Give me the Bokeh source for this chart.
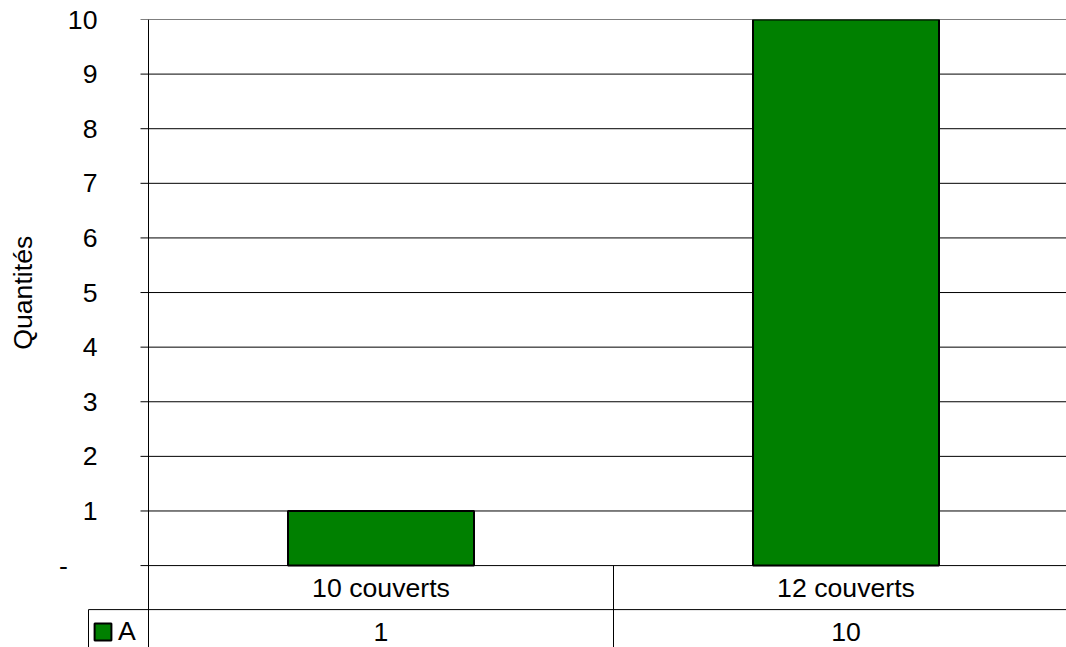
from bokeh.plotting import figure
from bokeh.models import Range1d, FixedTicker, Legend, LegendItem
from bokeh.embed import file_html
from bokeh.resources import INLINE
from bokeh.core.properties import value

# ---- data ----
categories = ["10 couverts", "12 couverts"]
series_name = "A"
values_a = [1, 10]
y_ticks = [0, 1, 2, 3, 4, 5, 6, 7, 8, 9, 10]
y_label = "Quantités"

FONT = "Liberation Sans"
FS = "20pt"
GREEN = "#008000"

# ---- layout constants (pixels -> data units) ----
PX = 1 / 465.0            # one pixel in x data units (one category = 465 px)
X_START = -61 * PX        # frame starts 61 px left of the value axis
X_END = 918 * PX
Y_MIN, Y_MAX = -1.5, 10
TICK = 8 * PX
CELL_LEFT = -60 * PX
ROW_SEP = -0.806
ROW1_Y = -0.403
ROW2_Y = -1.209

xs = [i + 0.5 for i in range(len(categories))]
bounds = [i + 1 for i in range(len(categories))]

p = figure(width=1066, height=647, output_backend="svg", toolbar_location=None,
           x_axis_location=None,
           min_border_left=87, min_border_right=0, min_border_top=19, min_border_bottom=0,
           x_range=Range1d(X_START, X_END), y_range=Range1d(Y_MIN, Y_MAX))
p.outline_line_color = None
p.background_fill_color = "white"
p.border_fill_color = "white"
p.xgrid.visible = False
p.ygrid.visible = False

# y axis (labels only; rule drawn at x = 0 below)
ax = p.yaxis[0]
ax.ticker = FixedTicker(ticks=y_ticks)
ax.bounds = (y_ticks[0], y_ticks[-1])
ax.major_label_overrides = {0: "-\u00a0\u00a0\u00a0\u00a0"}
ax.major_tick_out = 0
ax.major_tick_in = 0
ax.major_tick_line_color = None
ax.minor_tick_line_color = None
ax.axis_line_color = None
ax.major_label_standoff = -10
ax.major_label_text_font = FONT
ax.major_label_text_font_size = FS
ax.major_label_text_color = "black"
# leading no-break spaces centre the title on the 0-10 part of the axis
ax.axis_label = "\u00a0" * 11 + y_label
ax.axis_label_standoff = 18
ax.axis_label_text_font = FONT
ax.axis_label_text_font_size = FS
ax.axis_label_text_font_style = "normal"
ax.axis_label_text_color = "black"

# grid lines with tick stubs, and value-axis rule
p.segment(x0=[-TICK] * len(y_ticks), y0=y_ticks, x1=[X_END] * len(y_ticks), y1=y_ticks,
          line_color="black", line_width=1)
p.segment(x0=[0], y0=[Y_MIN], x1=[0], y1=[Y_MAX], line_color="black", line_width=1)

# bars
bars = p.vbar(x=xs, top=values_a, bottom=0, width=0.4,
              fill_color=GREEN, line_color="black", line_width=2)

# data table
p.segment(x0=[CELL_LEFT], y0=[ROW_SEP], x1=[X_END], y1=[ROW_SEP], line_color="black", line_width=1)
p.segment(x0=[CELL_LEFT], y0=[ROW_SEP], x1=[CELL_LEFT], y1=[Y_MIN], line_color="black", line_width=1)
p.segment(x0=bounds, y0=[0] * len(bounds), x1=bounds, y1=[Y_MIN] * len(bounds),
          line_color="black", line_width=1)
p.text(x=xs, y=[ROW1_Y] * len(xs), text=categories, text_align="center",
       text_baseline="middle", text_font=value(FONT), text_font_size=value(FS),
       text_color="black")
p.text(x=xs, y=[ROW2_Y] * len(xs), text=[str(v) for v in values_a], text_align="center",
       text_baseline="middle", text_font=value(FONT), text_font_size=value(FS),
       text_color="black")

legend = Legend(items=[LegendItem(label=series_name, renderers=[bars])],
                location=(5, 0), orientation="vertical",
                padding=0, margin=0, spacing=0,
                glyph_width=21, glyph_height=21, label_standoff=5, label_width=18,
                label_text_font=FONT, label_text_font_size=FS, label_text_color="black",
                border_line_color=None, background_fill_alpha=0)
p.add_layout(legend)

open("out.html", "w").write(file_html(p, INLINE))
